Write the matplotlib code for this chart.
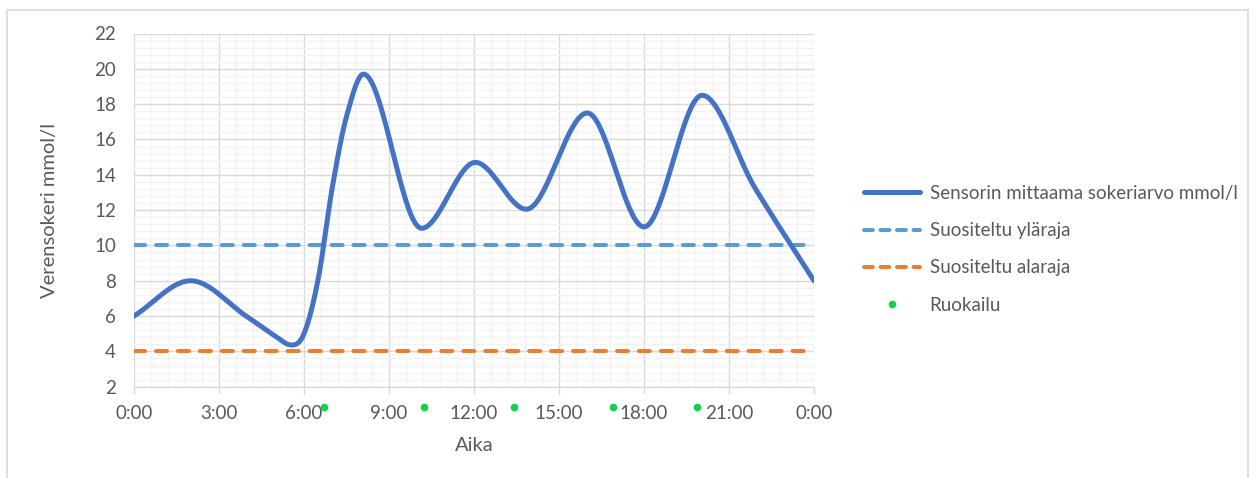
import numpy as np
import matplotlib
matplotlib.use("Agg")
import matplotlib.pyplot as plt
import matplotlib.patches as mpatches
from matplotlib.lines import Line2D
from matplotlib.ticker import MultipleLocator

plt.rcParams["font.family"] = ["Lato", "DejaVu Sans"]

# sensor readings (hours since midnight, mmol/l)
hours = [0, 2, 4, 5, 5.55, 6, 6.5, 7, 7.5, 8.1, 10.15, 12.05, 13.85, 16, 18, 20.05, 21.9, 24]
glucose = [6.0, 8.0, 5.95, 4.85, 4.36, 5.0, 8.1, 13.3, 17.3, 19.7, 10.97, 14.7, 12.05,
           17.5, 11.05, 18.5, 13.3, 8.0]

upper_limit = 10
lower_limit = 4

# meal times and the row they are marked on
meal_hours = [6.72, 10.25, 13.42, 16.9, 19.88]
meal_level = 0.85

x_ticks = [0, 3, 6, 9, 12, 15, 18, 21, 24]
tick_labels = ["0:00", "3:00", "6:00", "9:00", "12:00", "15:00", "18:00", "21:00", "0:00"]

BLUE = "#4472C4"
LIGHT_BLUE = "#5B9BD5"
ORANGE = "#ED7D31"
GREEN = "#12D14B"
TEXT = "#595959"


def smooth_curve(x, y, n=40):
    """Piecewise cubic Hermite through the points; flat at local extrema."""
    x = np.asarray(x, float)
    y = np.asarray(y, float)
    m = np.empty_like(y)
    m[0] = (y[1] - y[0]) / (x[1] - x[0])
    m[-1] = (y[-1] - y[-2]) / (x[-1] - x[-2])
    for i in range(1, len(x) - 1):
        if (y[i] - y[i - 1]) * (y[i + 1] - y[i]) <= 0:
            m[i] = 0.0
        else:
            m[i] = (y[i + 1] - y[i - 1]) / (x[i + 1] - x[i - 1])
    xs, ys = [], []
    t = np.linspace(0, 1, n)
    for i in range(len(x) - 1):
        h = x[i + 1] - x[i]
        h00 = 2 * t**3 - 3 * t**2 + 1
        h10 = t**3 - 2 * t**2 + t
        h01 = -2 * t**3 + 3 * t**2
        h11 = t**3 - t**2
        xs.append(x[i] + h * t)
        ys.append(h00 * y[i] + h10 * h * m[i] + h01 * y[i + 1] + h11 * h * m[i + 1])
    return np.concatenate(xs), np.concatenate(ys)


fig = plt.figure(figsize=(12.59, 4.78), dpi=100)
fig.patch.set_facecolor("white")
# chart frame
fig.add_artist(mpatches.Rectangle((7 / 1259, -0.05), 1241 / 1259, 1 - 10 / 478 + 0.05,
                                  transform=fig.transFigure, facecolor="none",
                                  edgecolor="#D9D9D9", lw=1.2))

ax = fig.add_axes([134 / 1259, 1 - 386.7 / 478, 680 / 1259, 353.2 / 478])
ax.set_xlim(0, 24)
ax.set_ylim(2, 22)

ax.xaxis.set_minor_locator(MultipleLocator(0.6))
ax.yaxis.set_major_locator(MultipleLocator(2))
ax.yaxis.set_minor_locator(MultipleLocator(0.4))
ax.grid(which="minor", color="#F2F2F2", lw=1.0)
ax.grid(which="major", color="#D9D9D9", lw=1.0)
ax.set_axisbelow(True)

ax.set_xticks(x_ticks)
ax.set_xticklabels(tick_labels)
for s in ["top", "right", "left"]:
    ax.spines[s].set_visible(False)
ax.spines["bottom"].set_color("#D9D9D9")
ax.spines["bottom"].set_linewidth(1.0)
ax.tick_params(axis="x", which="major", length=5, color="#D9D9D9", width=1.0,
               labelsize=13.5, labelcolor=TEXT, pad=8)
ax.tick_params(axis="x", which="minor", length=0)
ax.tick_params(axis="y", which="both", length=0, labelsize=13.5, labelcolor=TEXT, pad=13)

ax.set_xlabel("Aika", fontsize=14.5, color=TEXT, labelpad=11)
ax.set_ylabel("Verensokeri mmol/l", fontsize=14.5, color=TEXT, labelpad=26)

cx, cy = smooth_curve(hours, glucose)

dash = (2.75, 2.7)
ax.axhline(lower_limit, color=ORANGE, lw=2.9, dashes=dash, dash_capstyle="round", zorder=3)
ax.axhline(upper_limit, color=LIGHT_BLUE, lw=2.9, dashes=dash, dash_capstyle="round", zorder=3)
ax.plot(cx, cy, color=BLUE, lw=3.6, solid_capstyle="round", zorder=4)
ax.plot(meal_hours, [meal_level] * len(meal_hours), "o", color=GREEN, ms=4.5,
        clip_on=False, zorder=5)

handles = [
    Line2D([], [], color=BLUE, lw=3.6, solid_capstyle="round"),
    Line2D([], [], color=LIGHT_BLUE, lw=2.9, dashes=(2.2, 1.9), dash_capstyle="round"),
    Line2D([], [], color=ORANGE, lw=2.9, dashes=(2.2, 1.9), dash_capstyle="round"),
    Line2D([], [], color=GREEN, ls="none", marker="o", ms=4.5),
]
labels = ["Sensorin mittaama sokeriarvo mmol/l", "Suositeltu yläraja",
          "Suositeltu alaraja", "Ruokailu"]
fig.legend(handles, labels, loc="upper left", bbox_to_anchor=(864 / 1259, 1 - 185 / 478),
           frameon=False, fontsize=13.5, labelcolor=TEXT, handlelength=3.0,
           handletextpad=0.5, labelspacing=1.08, borderaxespad=0, borderpad=0)

fig.savefig("out.png", dpi=100, facecolor="white")
